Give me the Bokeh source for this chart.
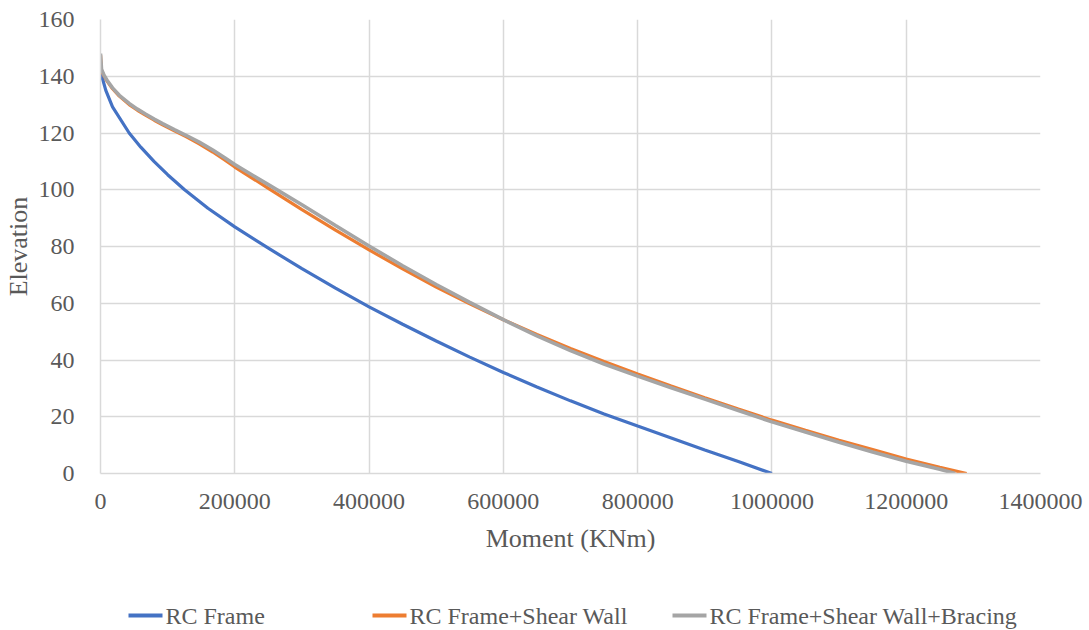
from bokeh.plotting import figure
from bokeh.layouts import column
from bokeh.models import Range1d, FixedTicker, BasicTickFormatter
from bokeh.core.properties import value
from bokeh.embed import file_html
from bokeh.resources import INLINE

# Bending moment along the building height for three structural systems
frame_moment = [0, 2000, 7900, 17900, 42700, 60000, 80000, 100000, 124800, 160000, 200000,
                250000, 300000, 350000, 400000, 450000, 500000, 550000, 600000, 650000,
                700000, 750000, 800000, 850000, 900000, 950000, 1000000]
frame_elev = [142.5, 140, 135, 129.2, 120, 115.0, 109.9, 105.3, 100.1, 93.5, 86.9,
              79.4, 72.2, 65.3, 58.7, 52.6, 46.7, 41.0, 35.6, 30.5,
              25.6, 21.0, 16.7, 12.5, 8.3, 4.2, 0]

wall_moment = [0, 1500, 5400, 10000, 17900, 28000, 42700, 55000, 67600, 80000, 92500,
               110000, 127300, 147000, 167200, 185000, 200000, 250000, 300000, 350000,
               400000, 450000, 500000, 550000, 600000, 650000, 700000, 750000, 800000,
               850000, 900000, 950000, 1000000, 1050000, 1100000, 1150000, 1200000,
               1250000, 1290000]
wall_elev = [147.5, 142, 140, 138.2, 135.6, 133.0, 130.0, 128.0, 126.2, 124.5, 122.9,
             120.8, 118.7, 116.2, 113.3, 110.5, 108.0, 100.5, 93.0, 85.8,
             78.8, 72.1, 65.7, 59.8, 54.2, 49.0, 44.1, 39.5, 35.1,
             30.8, 26.7, 22.7, 18.8, 15.2, 11.7, 8.4, 5.1,
             2.2, 0]

brace_moment = [0, 1500, 5400, 10000, 17900, 28000, 42700, 55000, 67600, 80000, 92500,
                110000, 127300, 147000, 167200, 185000, 200000, 250000, 300000, 350000,
                400000, 450000, 500000, 550000, 600000, 650000, 700000, 750000, 800000,
                850000, 900000, 950000, 1000000, 1050000, 1100000, 1150000, 1200000,
                1250000, 1273000]
brace_elev = [148, 142.5, 140.3, 138.5, 135.9, 133.3, 130.4, 128.4, 126.6, 124.9, 123.3,
              121.2, 119.2, 116.8, 114.0, 111.3, 108.9, 101.8, 94.7, 87.4,
              80.2, 73.2, 66.6, 60.3, 54.2, 48.5, 43.3, 38.6, 34.3,
              30.2, 26.2, 22.2, 18.2, 14.6, 11.0, 7.6, 4.3,
              1.5, 0]

series_names = ["RC Frame", "RC Frame+Shear Wall", "RC Frame+Shear Wall+Bracing"]
series_colors = ["#4472C4", "#ED7D31", "#A5A5A5"]

x_ticks = [0, 200000, 400000, 600000, 800000, 1000000, 1200000, 1400000]
y_ticks = [0, 20, 40, 60, 80, 100, 120, 140, 160]

FONT = "Liberation Serif"
TEXT = "#595959"
GRID = "#D9D9D9"

p = figure(width=1089, height=575, output_backend="svg", toolbar_location=None,
           x_range=Range1d(0, 1400000), y_range=Range1d(0, 160),
           min_border_left=100, min_border_right=49, min_border_top=19, min_border_bottom=102,
           frame_width=940, frame_height=454)
p.outline_line_color = None
p.background_fill_color = "white"
p.border_fill_color = "white"

for ax in (p.xaxis[0], p.yaxis[0]):
    ax.axis_line_color = GRID
    ax.axis_line_width = 1.5
    ax.major_tick_line_color = None
    ax.minor_tick_line_color = None
    ax.major_label_text_font = FONT
    ax.major_label_text_font_size = "24px"
    ax.major_label_text_color = TEXT
    ax.axis_label_text_font = FONT
    ax.axis_label_text_font_size = "26px"
    ax.axis_label_text_font_style = "normal"
    ax.axis_label_text_color = TEXT

p.xaxis.ticker = FixedTicker(ticks=x_ticks)
p.yaxis.ticker = FixedTicker(ticks=y_ticks)
p.xaxis.formatter = BasicTickFormatter(use_scientific=False)
p.xaxis.axis_label = "Moment (KNm)"
p.yaxis.axis_label = "Elevation"
p.xaxis.major_label_standoff = 14
p.yaxis.major_label_standoff = 20
p.xaxis.axis_label_standoff = 12
p.yaxis.axis_label_standoff = 3

p.xgrid.ticker = FixedTicker(ticks=x_ticks)
p.ygrid.ticker = FixedTicker(ticks=y_ticks)
for g in (p.xgrid[0], p.ygrid[0]):
    g.grid_line_color = GRID
    g.grid_line_width = 1.5

p.line(frame_moment, frame_elev, line_color=series_colors[0], line_width=3.2)
p.line(wall_moment, wall_elev, line_color=series_colors[1], line_width=3.2)
p.line(brace_moment, brace_elev, line_color=series_colors[2], line_width=3.6)

# legend strip below the chart; its frame lines up with the chart frame,
# so the x range is given in page pixels (100..1040)
leg = figure(width=1089, height=55, output_backend="svg", toolbar_location=None,
             x_range=Range1d(100, 1040), y_range=Range1d(55, 0),
             frame_width=940, frame_height=55,
             min_border_left=100, min_border_right=49,
             min_border_top=0, min_border_bottom=0,
             x_axis_type=None, y_axis_type=None)
leg.outline_line_color = None
leg.grid.visible = False
leg.background_fill_color = "white"
leg.border_fill_color = "white"

key_x0 = [128, 372, 672]
key_len = 34
key_y = 40
leg.segment(x0=key_x0, y0=[key_y] * 3, x1=[x + key_len for x in key_x0], y1=[key_y] * 3,
            line_color=series_colors, line_width=4)
leg.text(x=[x + key_len + 3 for x in key_x0], y=[key_y] * 3, text=series_names,
         text_font=value(FONT), text_font_size="24px", text_color=TEXT,
         text_baseline="middle", text_align="left")

layout = column(p, leg, spacing=0)
open("out.html", "w").write(file_html(layout, INLINE))
